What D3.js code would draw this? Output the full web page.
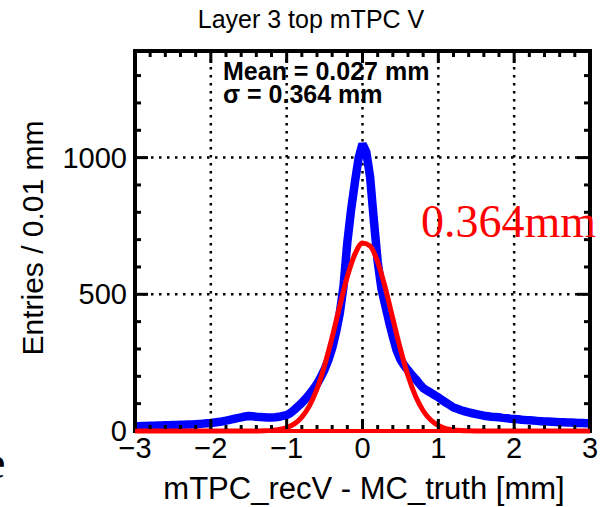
<!DOCTYPE html>
<html>
<head>
<meta charset="utf-8">
<script src="https://cdn.jsdelivr.net/npm/d3@7"></script>
<style>
  body { margin: 0; background: #fff; }
  svg { display: block; }
  text { font-family: "Liberation Sans", Arial, sans-serif; }
  text.serif { font-family: "Liberation Serif", "Times New Roman", serif; }
</style>
</head>
<body>
<svg width="605" height="507"></svg>
<script>
// histogram, bin centres every 0.05 mm
const binX = d3.range(121).map((i) => -3 + i * 0.05);
const counts = [
  17, 17, 18, 18, 19, 19, 20, 20, 21, 21, 22, 22, 23, 23, 24, 24, 25, 26, 27, 28,
  29, 31, 33, 35, 38, 41, 44, 47, 50, 53, 55, 54, 52, 51, 50, 49, 49, 50, 52, 55,
  58, 66, 77, 90, 103, 118, 134, 152, 172, 197, 225, 260, 303, 360, 430, 530, 690, 810, 910, 1000,
  1050, 1020, 930, 770, 620, 520, 460, 400, 345, 295, 262, 240, 222, 205, 190, 173, 157, 148, 140, 131,
  123, 113, 104, 95, 86, 81, 76, 72, 68, 65, 62, 59, 56, 54, 52, 51, 50, 48, 47, 45,
  44, 43, 41, 40, 39, 38, 37, 36, 35, 35, 34, 33, 32, 32, 31, 31, 30, 29, 29, 28, 28
];

const fitX = d3.range(61).map((i) => -3 + i * 0.1);
const fitY = [
  0, 0, 0, 0, 0, 0, 0, 0, 0, 0,
  0, 0, 0, 0, 0, 0, 0.3, 0.8, 2.3, 5.6,
  12.6, 26, 51, 92, 154, 239, 343, 457, 565, 647,
  688, 677, 619, 524, 411, 300, 202, 127, 74, 40,
  20, 9, 4, 1.5, 0.5, 0, 0, 0, 0, 0,
  0, 0, 0, 0, 0, 0, 0, 0, 0, 0, 0
];

const xTicks = [-3, -2, -1, 0, 1, 2, 3];
const yTicks = [0, 500, 1000];
const statLines = ["Mean = 0.027 mm", "\u03c3 = 0.364 mm"];

const svg = d3.select("svg");
const x = d3.scaleLinear().domain([-3, 3]).range([135, 590]);
const y = d3.scaleLinear().domain([0, 1390]).range([431, 51]);

// dotted grid
const grid = svg.append("g")
  .attr("stroke", "#000")
  .attr("stroke-width", 2.5)
  .attr("stroke-dasharray", "2.5,5.5");
grid.selectAll(".gx")
  .data(xTicks.slice(1, -1))
  .join("line")
  .attr("x1", (d) => x(d)).attr("x2", (d) => x(d))
  .attr("y1", y.range()[1]).attr("y2", y.range()[0]);
grid.selectAll(".gy")
  .data(yTicks.slice(1))
  .join("line")
  .attr("class", "gy")
  .attr("x1", x.range()[0]).attr("x2", x.range()[1])
  .attr("y1", (d) => y(d)).attr("y2", (d) => y(d));

// stats text
svg.append("g")
  .selectAll("text")
  .data(statLines)
  .join("text")
  .attr("x", 223)
  .attr("y", (d, i) => 80 + i * 23)
  .attr("font-size", 25)
  .attr("font-weight", "bold")
  .text((d) => d);

// histogram
svg.append("path")
  .datum(binX.map((d, i) => [d, counts[i]]))
  .attr("fill", "none")
  .attr("stroke", "#0000ff")
  .attr("stroke-width", 8.5)
  .attr("stroke-linejoin", "bevel")
  .attr("d", d3.line().x((d) => x(d[0])).y((d) => y(d[1])));

// fit
svg.append("path")
  .datum(fitX.map((d, i) => [d, fitY[i]]))
  .attr("fill", "none")
  .attr("stroke", "#ff0000")
  .attr("stroke-width", 5)
  .attr("d", d3.line().x((d) => x(d[0])).y((d) => y(d[1])).curve(d3.curveMonotoneX));

// axes with inward ticks on all four sides
const minorX = d3.range(31).map((i) => -3 + i * 0.2);
const minorY = d3.range(14).map((i) => i * 100);
const axes = svg.append("g").attr("stroke", "#000").attr("stroke-width", 3);
const x0 = x.range()[0], x1 = x.range()[1], yb = y.range()[0], yt = y.range()[1];
minorX.forEach((v) => {
  const len = xTicks.some((t) => Math.abs(t - v) < 1e-6) ? 12 : 6;
  axes.append("line").attr("x1", x(v)).attr("x2", x(v)).attr("y1", yb).attr("y2", yb - len);
  axes.append("line").attr("x1", x(v)).attr("x2", x(v)).attr("y1", yt).attr("y2", yt + len);
});
minorY.forEach((v) => {
  const len = v % 500 === 0 ? 13 : 6;
  axes.append("line").attr("x1", x0).attr("x2", x0 + len).attr("y1", y(v)).attr("y2", y(v));
  axes.append("line").attr("x1", x1).attr("x2", x1 - len).attr("y1", y(v)).attr("y2", y(v));
});
svg.append("rect")
  .attr("x", x0).attr("y", yt)
  .attr("width", x1 - x0).attr("height", yb - yt)
  .attr("fill", "none").attr("stroke", "#000").attr("stroke-width", 4);

// the fit's flat part lies over the bottom frame, as in the picture
svg.append("line")
  .attr("x1", x0).attr("x2", x1).attr("y1", yb).attr("y2", yb)
  .attr("stroke", "#ff0000").attr("stroke-width", 4);

// tick labels
svg.append("g")
  .selectAll("text")
  .data(xTicks)
  .join("text")
  .attr("x", (d) => x(d))
  .attr("y", 458)
  .attr("text-anchor", "middle")
  .attr("font-size", 29)
  .text((d) => (d < 0 ? "\u2212" + Math.abs(d) : d));
svg.append("g")
  .selectAll("text")
  .data(yTicks)
  .join("text")
  .attr("x", 127)
  .attr("y", (d) => y(d) + 10)
  .attr("text-anchor", "end")
  .attr("font-size", 29)
  .text((d) => d);

// titles
svg.append("text")
  .attr("x", 311).attr("y", 28)
  .attr("text-anchor", "middle")
  .attr("font-size", 25)
  .text("Layer 3 top mTPC V");
svg.append("text")
  .attr("x", 364).attr("y", 499)
  .attr("text-anchor", "middle")
  .attr("font-size", 31)
  .text("mTPC_recV - MC_truth [mm]");
svg.append("text")
  .attr("transform", "translate(43,238) rotate(-90)")
  .attr("text-anchor", "middle")
  .attr("font-size", 30)
  .text("Entries / 0.01 mm");

// red annotation and the edge of a letter cut off at the left
svg.append("text")
  .attr("class", "serif")
  .attr("x", 421).attr("y", 237)
  .attr("fill", "#ff0000")
  .attr("font-size", 46)
  .text("0.364mm");
svg.append("text")
  .attr("class", "serif")
  .attr("x", -15).attr("y", 478)
  .attr("font-size", 46)
  .text("e");
</script>
</body>
</html>
